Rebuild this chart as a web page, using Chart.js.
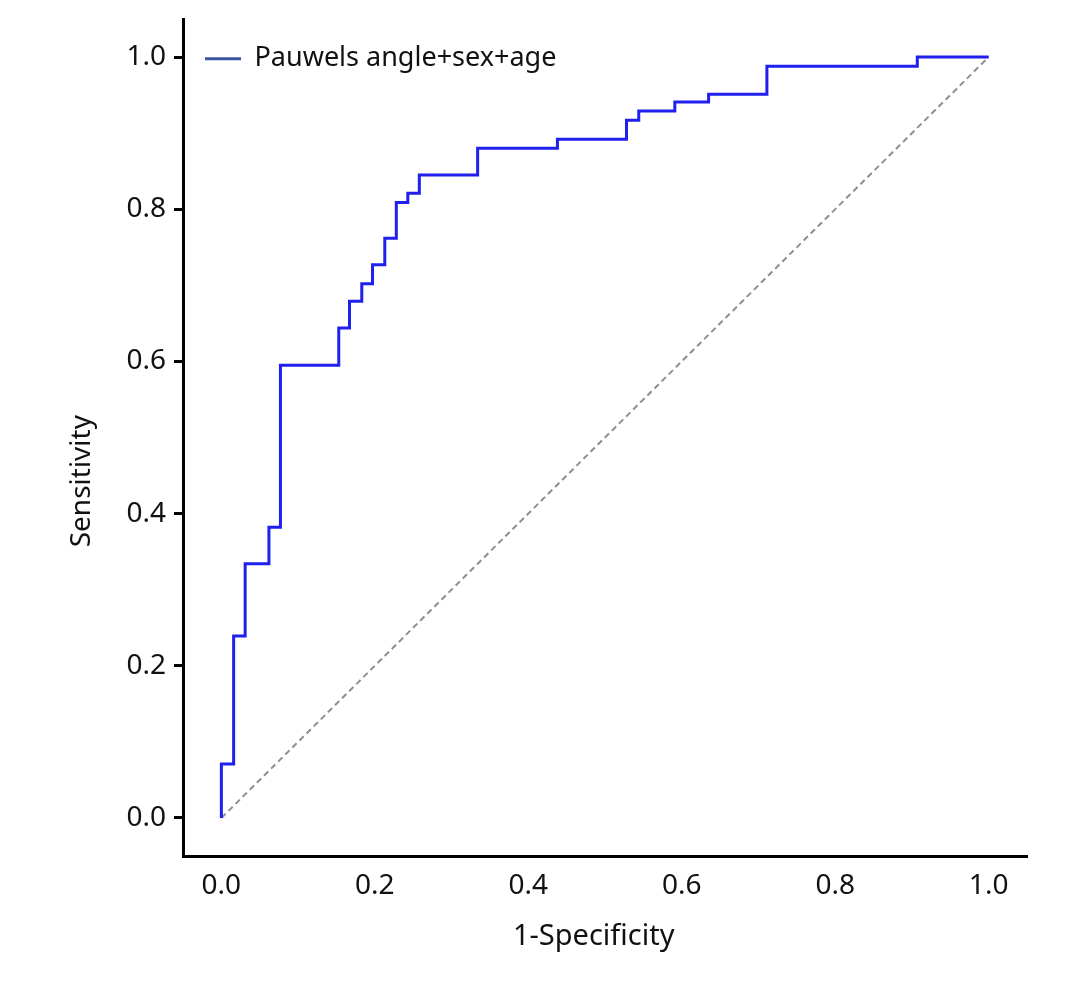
<!DOCTYPE html>
<html>
<head>
<meta charset="utf-8">
<script src="https://cdn.jsdelivr.net/npm/chart.js@4.4.1/dist/chart.umd.min.js"></script>
<style>
  html, body { margin: 0; padding: 0; background: #fff; }
  #wrap { width: 1091px; height: 981px; }
</style>
</head>
<body>
<div id="wrap"><canvas id="roc"></canvas></div>
<script>
// ROC step points (top of each vertical jump)
const fpr = [0, 0, 0.016, 0.031, 0.062, 0.077, 0.153, 0.167, 0.183, 0.197, 0.213, 0.228,
             0.243, 0.258, 0.334, 0.438, 0.528, 0.544, 0.591, 0.635, 0.711, 0.907, 1.0];
const tpr = [0, 0.071, 0.239, 0.334, 0.382, 0.595, 0.644, 0.679, 0.702, 0.727, 0.762, 0.809,
             0.821, 0.845, 0.880, 0.892, 0.917, 0.929, 0.941, 0.951, 0.988, 1.0, 1.0];
const chanceX = [0, 1];
const chanceY = [0, 1];
const tickVals = [0, 0.2, 0.4, 0.6, 0.8, 1.0];
const seriesName = "Pauwels angle+sex+age";

const font = "'Noto Sans', 'Open Sans', sans-serif";

const toPoints = (xs, ys) => xs.map((x, i) => ({x: x, y: ys[i]}));
const setTicks = (scale) => { scale.ticks = tickVals.map(v => ({value: v})); };

const ctx = document.getElementById('roc');
const myChart = new Chart(ctx, {
  type: 'scatter',
  data: {
    datasets: [{
      label: seriesName,
      data: toPoints(fpr, tpr),
      showLine: true,
      stepped: 'before',
      borderColor: '#1f1fee',
      borderWidth: 3,
      pointRadius: 0,
      order: 1
    }, {
      label: 'chance',
      data: toPoints(chanceX, chanceY),
      showLine: true,
      borderColor: '#8e8e8e',
      borderWidth: 2,
      borderDash: [6, 4],
      pointRadius: 0,
      order: 2
    }]
  },
  options: {
    responsive: true,
    maintainAspectRatio: false,
    animation: false,
    layout: { padding: { left: 0, top: 19, right: 64, bottom: 0 } },
    plugins: {
      tooltip: { enabled: false },
      legend: {
        position: 'chartArea',
        align: 'start',
        title: { display: true, text: '', color: '#111', font: { size: 1 }, padding: { top: 22, bottom: 0 } },
        labels: {
          font: { family: font, size: 27 },
          color: '#111',
          boxWidth: 36,
          boxHeight: 3,
          padding: 22,
          generateLabels: (chart) => [{
            text: seriesName,
            fillStyle: '#3b55a0',
            strokeStyle: '#3b55a0',
            fontColor: '#111',
            lineWidth: 0,
            datasetIndex: 0
          }]
        }
      }
    },
    scales: {
      x: {
        type: 'linear',
        min: -0.05,
        max: 1.05,
        afterBuildTicks: setTicks,
        afterFit: (scale) => { scale.height = 125; scale.paddingLeft = 0; scale.paddingRight = 0; },
        grid: { display: true, drawOnChartArea: false, drawTicks: false },
        border: { display: true, color: '#000', width: 3 },
        ticks: {
          padding: 13,
          color: '#111',
          font: { family: font, size: 28 },
          callback: (v) => v.toFixed(1)
        },
        title: {
          display: true,
          text: '1-Specificity   ',
          color: '#111',
          font: { family: font, size: 29 },
          padding: { top: 0, bottom: 27 }
        }
      },
      y: {
        type: 'linear',
        min: -0.05,
        max: 1.05,
        afterBuildTicks: setTicks,
        afterFit: (scale) => { scale.width = 183; scale.paddingTop = 0; scale.paddingBottom = 0; },
        grid: { display: true, drawOnChartArea: false, drawTicks: true, tickLength: 9, color: '#000', lineWidth: 3 },
        border: { display: true, color: '#000', width: 3 },
        ticks: {
          padding: 8,
          color: '#111',
          font: { family: font, size: 28 },
          callback: (v) => v.toFixed(1)
        },
        title: {
          display: true,
          text: 'Sensitivity            ',
          color: '#111',
          font: { family: font, size: 28 },
          padding: { top: 65, bottom: 0 }
        }
      }
    }
  }
});
</script>
</body>
</html>
